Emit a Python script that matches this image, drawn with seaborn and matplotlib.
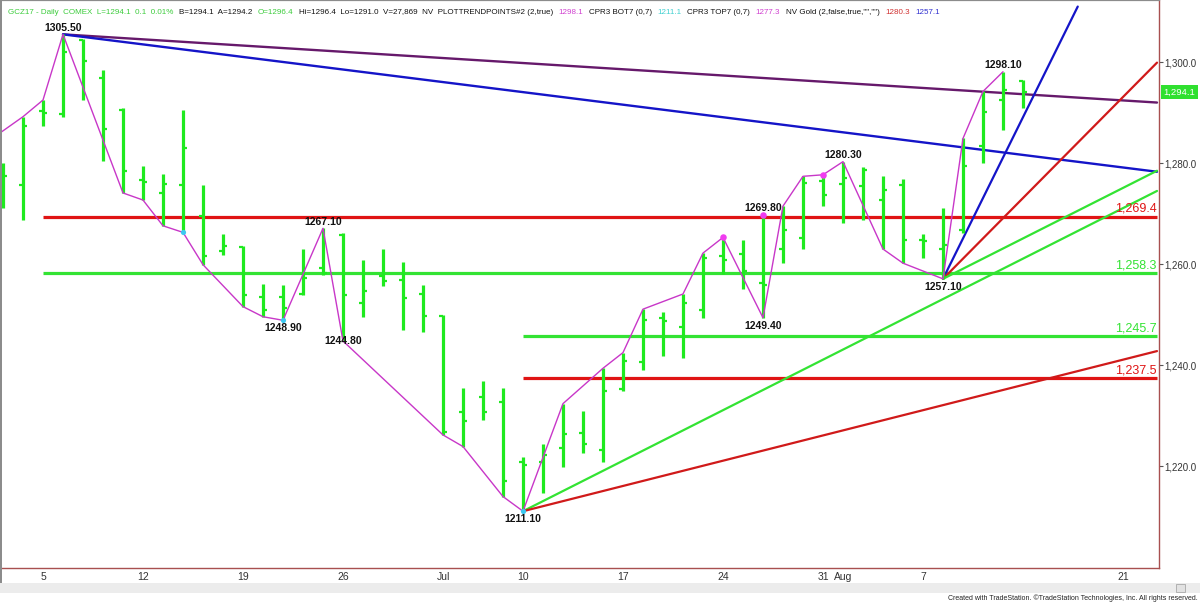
import pandas as pd
import matplotlib
matplotlib.use("Agg")
import matplotlib.pyplot as plt
import matplotlib.transforms as mtransforms
from matplotlib.patches import Rectangle
from matplotlib.offsetbox import TextArea, HPacker, AnchoredOffsetbox
import seaborn as sns

# --- data: GCZ17 daily bars, 1 Jun -> 14 Aug 2017 ---
days = pd.bdate_range("2017-06-01", "2017-08-25")
days = days[days != pd.Timestamp("2017-07-04")]  # holiday

opens = [1278.0, 1275.7, 1290.3, 1289.8, 1304.4, 1296.8, 1290.6, 1276.7, 1274.1, 1275.7,
         1269.5, 1262.6, 1263.5, 1253.6, 1253.6, 1254.1, 1259.2, 1265.7, 1252.3, 1257.6,
         1256.9, 1254.1, 1249.8, 1230.8, 1233.7, 1232.7, 1220.8, 1220.9, 1223.7, 1226.5,
         1223.2, 1235.2, 1240.7, 1249.3, 1247.6, 1250.9, 1261.6, 1262.0, 1256.3, 1263.0,
         1265.1, 1276.5, 1275.9, 1275.4, 1272.7, 1275.7, 1264.8, 1263.0, 1266.8, 1283.4,
         1292.6, 1296.2]
highs = [1280.0, 1289.2, 1292.5, 1305.5, 1304.5, 1298.5, 1290.9, 1279.5, 1277.9, 1290.6,
         1275.7, 1265.9, 1263.6, 1256.1, 1255.9, 1263.1, 1267.1, 1266.1, 1260.9, 1263.1,
         1260.5, 1255.9, 1250.0, 1235.4, 1236.9, 1235.4, 1221.9, 1224.5, 1232.4, 1231.0,
         1239.4, 1242.5, 1251.1, 1250.5, 1254.1, 1262.2, 1265.3, 1264.7, 1269.8, 1271.5,
         1277.4, 1277.7, 1280.3, 1279.3, 1277.4, 1276.8, 1265.9, 1271.2, 1284.9, 1294.2,
         1298.1, 1296.4]
lows = [1271.1, 1268.8, 1287.4, 1289.2, 1292.5, 1280.5, 1274.1, 1272.7, 1267.6, 1266.3,
        1259.9, 1261.8, 1251.6, 1249.6, 1248.9, 1253.9, 1257.9, 1244.8, 1249.6, 1255.6,
        1247.0, 1246.5, 1226.2, 1223.9, 1229.2, 1214.0, 1211.1, 1214.7, 1219.9, 1222.6,
        1220.9, 1234.8, 1239.1, 1241.9, 1241.4, 1249.3, 1258.1, 1255.1, 1249.4, 1260.2,
        1263.0, 1271.5, 1268.2, 1268.8, 1263.0, 1260.2, 1261.2, 1257.1, 1266.1, 1280.0,
        1286.6, 1291.0]
closes = [1277.4, 1287.4, 1290.0, 1302.0, 1300.3, 1286.7, 1278.5, 1276.2, 1275.9, 1283.1,
          1261.6, 1263.6, 1253.9, 1251.0, 1251.3, 1257.2, 1258.2, 1253.9, 1254.6, 1256.6,
          1253.3, 1249.8, 1226.7, 1229.0, 1230.8, 1217.0, 1220.2, 1222.2, 1226.4, 1224.5,
          1234.8, 1240.9, 1249.0, 1248.8, 1252.3, 1261.2, 1260.9, 1258.7, 1255.9, 1266.8,
          1276.0, 1273.7, 1277.0, 1278.7, 1274.6, 1264.8, 1264.5, 1263.8, 1279.5, 1290.2,
          1294.4, 1294.1]

# trend-point zigzag (bar index, price)
zz_idx = [-1, 1, 2, 3, 6, 7, 8, 9, 10, 12, 13, 14, 16, 17, 22, 23, 25, 26, 28, 30, 31, 32,
          34, 35, 36, 38, 39, 40, 41, 42, 44, 45, 47, 48, 49, 50]
zz_price = [1283.6, 1289.2, 1292.5, 1305.5, 1274.1, 1272.7, 1267.6, 1266.3, 1259.9, 1251.6,
            1249.6, 1248.9, 1267.1, 1244.8, 1226.2, 1223.9, 1214.0, 1211.1, 1232.4, 1239.4,
            1242.5, 1251.1, 1254.1, 1262.2, 1265.3, 1249.4, 1271.5, 1277.4, 1277.7, 1280.3,
            1263.0, 1260.2, 1257.1, 1284.9, 1294.2, 1298.1]

pink_idx = [36, 38, 41]
pink_price = [1265.3, 1269.8, 1277.7]
cyan_idx = [9, 14, 26]
cyan_price = [1266.3, 1248.9, 1211.1]

swing_idx = [3, 16, 14, 17, 26, 38, 38, 42, 47, 50]
swing_price = [1305.5, 1267.1, 1248.9, 1244.8, 1211.1, 1269.8, 1249.4, 1280.3, 1257.1, 1298.1]
swing_side = ["hi", "hi", "lo", "mid", "lo", "hi", "lo", "hi", "lo", "hi"]

levels = [1269.4, 1258.3, 1245.7, 1237.5]
level_start = [2, 2, 26, 26]

# down trend lines from the 1305.50 top (end price at right edge)
down_end = [1292.0, 1278.3]
# angle fans: (start bar, start price, $ per bar)
fan_start = [26, 26, 47, 47, 47]
fan_base = [1211.1, 1211.1, 1257.1, 1257.1, 1257.1]
fan_slope = [2.0, 1.0, 8.0, 4.0, 2.0]

tick_dates = ["2017-06-05", "2017-06-12", "2017-06-19", "2017-06-26", "2017-07-03", "2017-07-10",
              "2017-07-17", "2017-07-24", "2017-07-31", "2017-08-01", "2017-08-07", "2017-08-21"]
tick_labels = ["5", "12", "19", "26", "Jul", "10", "17", "24", "31", "Aug", "7", "21"]

last_price = 1294.1

# --- style ---
BAR = "#1fea1f"
GREEN = "#33e333"
RED = "#e01414"
DKRED = "#d01a1a"
BLUE = "#1414c8"
PURPLE = "#66196b"
ZZ = "#c837c8"
XMIN, XMAX = -0.15, 57.8
YMIN, YMAX = 1199.86, 1312.3

sns.set_style("white")
plt.rcParams["font.family"] = ["Liberation Sans", "DejaVu Sans"]

fig = plt.figure(figsize=(12, 6.03), dpi=100)
ax = fig.add_axes([0, 35 / 603, 1159 / 1200, 568 / 603])
ax.set_xlim(XMIN, XMAX)
ax.set_ylim(YMIN, YMAX)

idx = list(range(len(opens)))

# horizontal levels
for lv, st, col in zip(levels, level_start, [RED, GREEN, GREEN, RED]):
    ax.hlines(lv, st, XMAX - 0.1, color=col, lw=2.3, zorder=2)
    ax.text(XMAX - 0.12, lv + 0.35, f"{lv:,.1f}", color=col, fontsize=9,
            ha="right", va="bottom", zorder=6)

# trend lines from the top
for end, col in zip(down_end, [PURPLE, BLUE]):
    sns.lineplot(x=[swing_idx[0], XMAX - 0.1], y=[swing_price[0], end], color=col,
                 lw=1.7, ax=ax, zorder=3, estimator=None)

# angle fans
for st, base, sl, col in zip(fan_start, fan_base, fan_slope, [GREEN, DKRED, BLUE, DKRED, GREEN]):
    x_end = min(XMAX - 0.1, st + (1311.0 - base) / sl)
    sns.lineplot(x=[st, x_end], y=[base, base + sl * (x_end - st)], color=col,
                 lw=1.6, ax=ax, zorder=3, estimator=None)

# OHLC bars
ax.vlines(idx, lows, highs, color=BAR, lw=2.3, zorder=4)
ax.hlines(opens, [i - 0.22 for i in idx], idx, color=BAR, lw=1.6, zorder=4)
ax.hlines(closes, idx, [i + 0.22 for i in idx], color=BAR, lw=1.6, zorder=4)

# zigzag trend points
sns.lineplot(x=zz_idx, y=zz_price, color=ZZ, lw=1.0, ax=ax, zorder=5,
             estimator=None, sort=False)
sns.scatterplot(x=pink_idx, y=pink_price, color="#f03cf0", s=22, ax=ax, zorder=6, linewidth=0)
sns.scatterplot(x=cyan_idx, y=cyan_price, color="#3cc8f0", s=14, ax=ax, zorder=6, linewidth=0)

for i, p, side in zip(swing_idx, swing_price, swing_side):
    if side == "hi":
        off, va = 1, "bottom"
    elif side == "lo":
        off, va = -2, "top"
    else:
        off, va = 0, "center"
    ax.annotate(f"{p:.2f}", (i, p), xytext=(0, off), textcoords="offset points",
                ha="center", va=va, fontsize=7.5, fontweight="bold", color="#111111", zorder=7)

# axes look
for s in ["left", "top"]:
    ax.spines[s].set_color("#8c8c8c")
    ax.spines[s].set_linewidth(1.6)
for s in ["right", "bottom"]:
    ax.spines[s].set_color("#a85050")
    ax.spines[s].set_linewidth(1.0)

ax.yaxis.tick_right()
ax.set_yticks([1220, 1240, 1260, 1280, 1300])
ax.set_yticklabels([f"{v:,.1f}" for v in [1220, 1240, 1260, 1280, 1300]])
ax.tick_params(axis="y", direction="out", length=3, width=0.8, color="#555555",
               labelsize=7, labelcolor="#333333", pad=1)

tick_pos = [list(days).index(pd.Timestamp(d)) for d in tick_dates]
ax.set_xticks(tick_pos)
ax.set_xticklabels(tick_labels)
ax.tick_params(axis="x", direction="in", length=2, width=0.8, color="#888888",
               labelsize=7.5, labelcolor="#333333", pad=3)

# last price marker
tr = mtransforms.blended_transform_factory(ax.transAxes, ax.transData)
ax.text(1.004, last_price, f"{last_price:,.1f}", transform=tr, color="white", fontsize=6.8,
        ha="left", va="center", clip_on=False, zorder=8,
        bbox=dict(boxstyle="square,pad=0.25", facecolor="#2fe02f", edgecolor="none"))

# header line
header = [("GCZ17 - Daily  COMEX  L=1294.1  0.1  0.01%", "#3ccc3c"),
          ("B=1294.1  A=1294.2", "#111111"), ("O=1296.4", "#3ccc3c"),
          ("Hi=1296.4  Lo=1291.0  V=27,869  NV  PLOTTRENDPOINTS#2 (2,true)", "#111111"),
          ("1298.1", "#d040d0"), ("CPR3 BOT7 (0,7)", "#111111"), ("1211.1", "#40d0d0"),
          ("CPR3 TOP7 (0,7)", "#111111"), ("1277.3", "#d040d0"),
          ('NV Gold (2,false,true,"","")', "#111111"), ("1280.3", "#d03030"),
          ("1257.1", "#3030d0")]
areas = [TextArea(t, textprops=dict(color=c, fontsize=5.8)) for t, c in header]
box = AnchoredOffsetbox(loc="upper left", child=HPacker(children=areas, sep=4, pad=0),
                        frameon=False, bbox_to_anchor=(0.002, 0.995),
                        bbox_transform=fig.transFigure, borderpad=0)
fig.add_artist(box)

# scroll bar + footer
fig.patches.append(Rectangle((0, 10 / 603), 1, 10 / 603, transform=fig.transFigure,
                             facecolor="#ececec", edgecolor="none"))
fig.patches.append(Rectangle((1176 / 1200, 11 / 603), 9 / 1200, 8 / 603, transform=fig.transFigure,
                             facecolor="#e2e2e2", edgecolor="#a8a8a8", lw=0.6))
fig.patches.append(Rectangle((0, 20 / 603), 2 / 1200, 583 / 603, transform=fig.transFigure,
                             facecolor="#8c8c8c", edgecolor="none"))
fig.text(0.9985, 0.001, "Created with TradeStation. \u00a9TradeStation Technologies, Inc. All rights reserved.",
         ha="right", va="bottom", fontsize=5, color="#222222")

fig.savefig("out.png", dpi=100)
